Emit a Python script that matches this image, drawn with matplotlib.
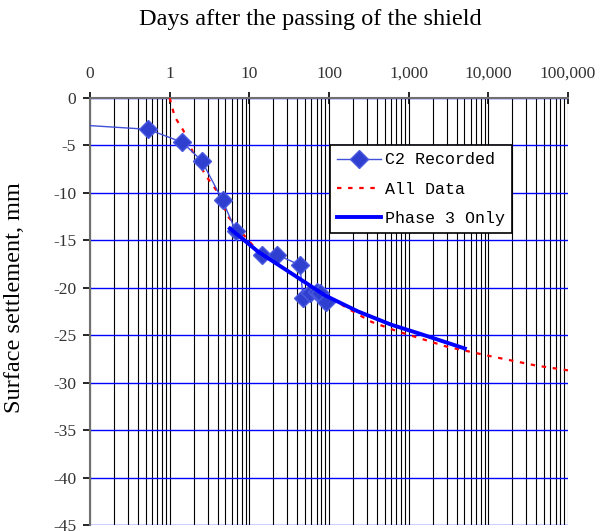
import numpy as np
import matplotlib
matplotlib.use('Agg')
import matplotlib.pyplot as plt
from matplotlib.ticker import LogLocator, FixedLocator, NullFormatter

# C2 recorded settlements (days after shield passage, mm)
rec_days = [0.05, 0.535, 1.44, 2.52, 4.62, 6.73, 14.5, 22, 43, 47.5, 57.5, 70, 77, 93]
rec_settle = [-2.75, -3.3, -4.67, -6.6, -10.8, -14.0, -16.5, -16.5, -17.6,
              -21.1, -20.6, -20.4, -20.6, -21.5]

# fit to all data
all_days = [1.0, 1.16, 1.48, 2.07, 2.91, 4.07, 5.4, 12.9, 34, 89, 174, 343,
            730, 2990, 10500, 40000, 100000]
all_settle = [0, -2.0, -3.4, -6.2, -8.3, -10, -12.5, -16.2, -18.5, -20.7, -22.2,
              -23.6, -24.6, -26.2, -27.2, -28.2, -28.7]

# fit to phase 3 only
ph3_days = [5.7, 12.9, 34, 89, 232, 608, 1450, 5070]
ph3_settle = [-13.75, -16.2, -18.5, -20.8, -22.5, -23.9, -24.9, -26.4]

x_ticks = [0.1, 1, 10, 100, 1000, 10000, 100000]
x_labels = ['0', '1', '10', '100', '1,000', '10,000', '100,000']
y_ticks = [0, -5, -10, -15, -20, -25, -30, -35, -40, -45]
y_labels = ['0', '-5', '-10', '-15', '-20', '-25', '-30', '-35', '-40', '-45']

serif = 'Liberation Serif'

fig = plt.figure(figsize=(6.04, 5.31), dpi=100)
ax = fig.add_axes([90/604, 1 - 525/531, 478/604, 427/531])

ax.set_xscale('log')
ax.set_xlim(0.1, 100000)
ax.set_ylim(-45, 0)

ax.plot(rec_days, rec_settle, color='#4050D8', lw=1, marker='D', markersize=9,
        markerfacecolor='#2F3FCF', markeredgecolor='#4A5AE0', label='C2 Recorded',
        zorder=4)
ax.plot(all_days, all_settle, color='#FF0000', lw=1.6, ls=(0, (2, 3)),
        label='All Data', zorder=3)
ax.plot(ph3_days, ph3_settle, color='#0000FF', lw=2.8, label='Phase 3 Only',
        zorder=5)

# ticks
ax.xaxis.tick_top()
ax.xaxis.set_major_locator(FixedLocator(x_ticks))
ax.set_xticklabels(x_labels)
ax.xaxis.set_minor_locator(LogLocator(base=10, subs=np.arange(2, 10), numticks=20))
ax.xaxis.set_minor_formatter(NullFormatter())
ax.tick_params(axis='x', which='major', direction='inout', length=9, width=1.2,
               pad=7, labelsize=12.5, colors='black')
ax.tick_params(axis='x', which='minor', length=0)
ax.set_yticks(y_ticks)
ax.set_yticklabels(y_labels)
ax.tick_params(axis='y', which='major', direction='out', length=5, width=1.2,
               pad=5, labelsize=12.5)
for lab in ax.get_xticklabels() + ax.get_yticklabels():
    lab.set_fontfamily(serif)
    lab.set_color('#333333')

# grid
ax.grid(which='major', axis='x', color='black', lw=0.8)
ax.grid(which='minor', axis='x', color='black', lw=0.8)
ax.grid(which='major', axis='y', color='#0000FF', lw=1)
ax.set_axisbelow(True)

for s in ['right', 'bottom']:
    ax.spines[s].set_visible(False)
for s in ['top', 'left']:
    ax.spines[s].set_color('#707070')
    ax.spines[s].set_linewidth(1.5)

ax.set_ylabel('Surface settlement, mm', fontsize=17.5, family=serif)
ax.yaxis.set_label_coords(-0.136, 0.533)
fig.text(0.514, 1 - 20/531, 'Days after the passing of the shield',
         ha='center', va='center', fontsize=17.5, family=serif)

leg = ax.legend(loc='upper left', bbox_to_anchor=(0.502, 0.890), numpoints=1,
                prop={'family': 'Liberation Mono', 'size': 12},
                fancybox=False, framealpha=1, edgecolor='black',
                handlelength=2.6, labelspacing=0.85, borderpad=0.45,
                handletextpad=0.25, borderaxespad=0)
leg.get_frame().set_linewidth(1.2)

fig.savefig('out.png', dpi=100)
